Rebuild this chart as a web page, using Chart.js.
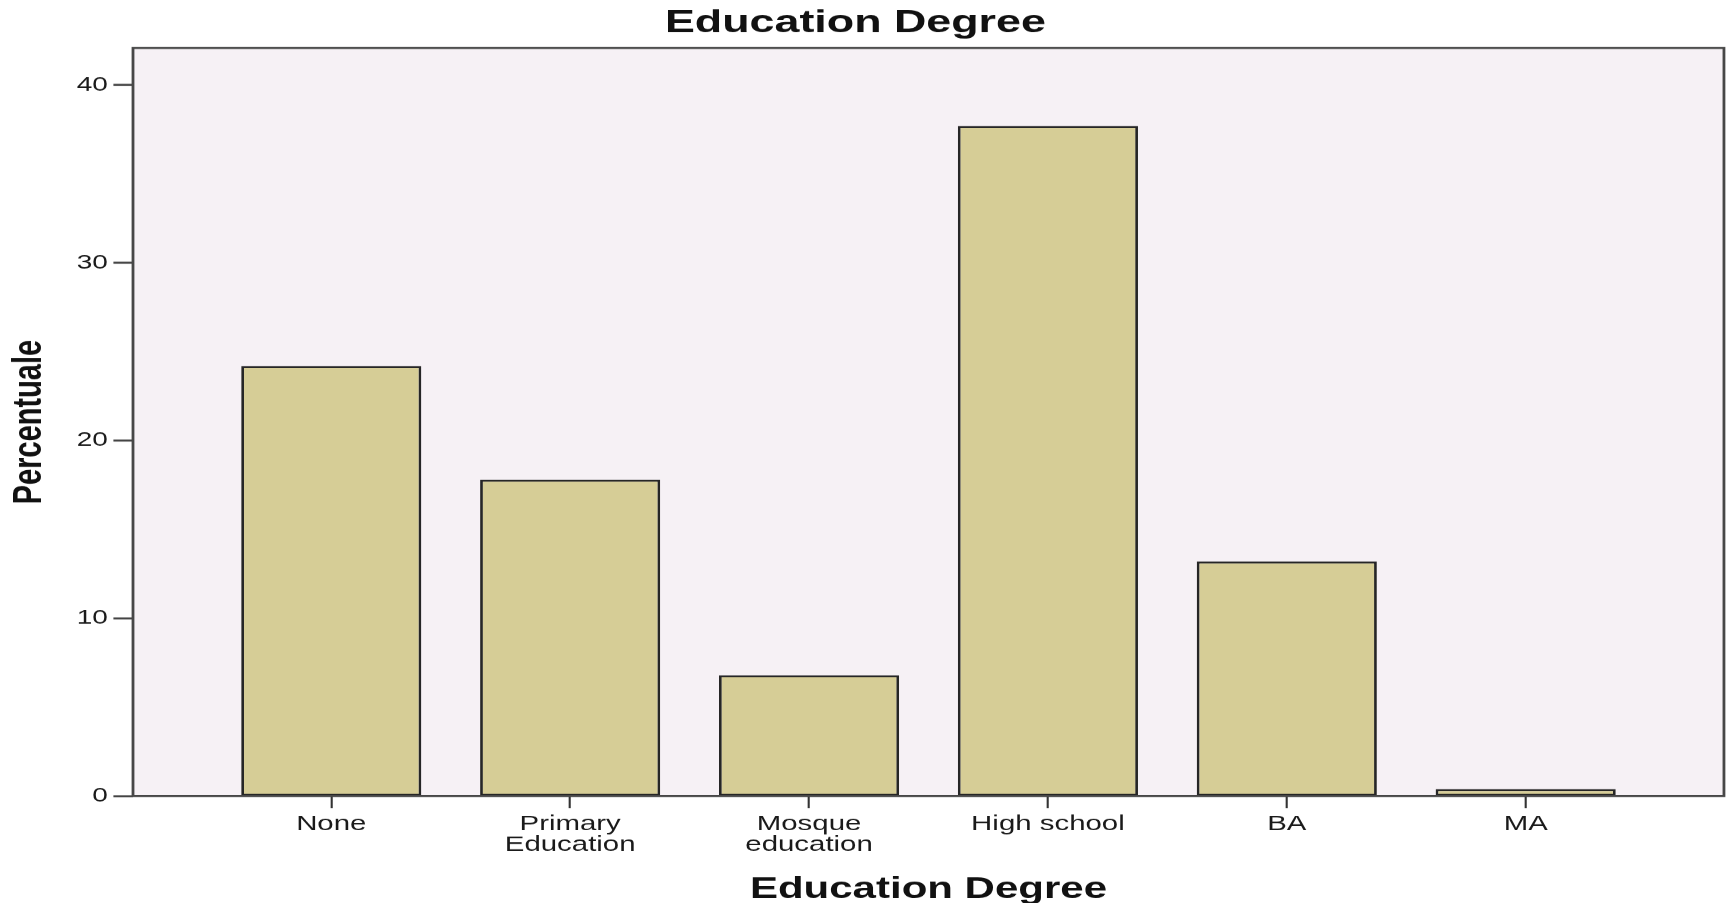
<!DOCTYPE html>
<html>
<head>
<meta charset="utf-8">
<script src="https://cdn.jsdelivr.net/npm/chart.js@4/dist/chart.umd.min.js"></script>
<style>
  html, body { margin: 0; padding: 0; background: #ffffff; overflow: hidden; }
  #wrap { width: 1240px; height: 903px; transform: scaleX(1.4); transform-origin: 0 0; }
</style>
</head>
<body>
<div id="wrap"><canvas id="c" width="1240" height="903"></canvas></div>
<script>
// ---- data ----
const categories = ['None', 'Primary\nEducation', 'Mosque\neducation', 'High school', 'BA', 'MA'];
const percentValues = [24.2, 17.8, 6.8, 37.7, 13.2, 0.4];
const yTickValues = [0, 10, 20, 30, 40];
const chartTitle = 'Education Degree';
const xAxisTitle = 'Education Degree';
const yAxisTitle = 'Percentuale';

const FONT = "'Liberation Sans', Arial, Helvetica, sans-serif";

const bgPlugin = {
  id: 'plotBg',
  beforeDraw(chart) {
    const { ctx, chartArea: a } = chart;
    ctx.save();
    ctx.fillStyle = '#f6f1f5';
    ctx.fillRect(a.left, a.top, a.right - a.left, a.bottom - a.top);
    ctx.restore();
  },
  afterDatasetsDraw(chart) {
    const { ctx, chartArea: a } = chart;
    ctx.save();
    ctx.strokeStyle = '#474747';
    ctx.lineWidth = 2;
    ctx.strokeRect(a.left, a.top, a.right - a.left, a.bottom - a.top);
    ctx.restore();
  },
  afterDraw(chart) {
    const { ctx } = chart;
    ctx.save();
    ctx.fillStyle = '#111';
    ctx.font = 'bold 32px ' + FONT;
    ctx.textAlign = 'center';
    ctx.textBaseline = 'middle';
    ctx.fillText(chartTitle, 611, 23);
    ctx.restore();
  }
};

new Chart(document.getElementById('c'), {
  type: 'bar',
  data: {
    datasets: [{
      data: percentValues.map((v, i) => ({ x: i, y: v })),
      backgroundColor: '#d6cd96',
      borderColor: '#262626',
      borderWidth: 2,
      borderSkipped: false,
      barPercentage: 0.754,
      categoryPercentage: 1.0
    }]
  },
  options: {
    responsive: false,
    animation: false,
    devicePixelRatio: 1.4,
    layout: { padding: { top: 48, right: 8.6, left: 0, bottom: 0 } },
    plugins: { legend: { display: false }, tooltip: { enabled: false }, title: { display: false } },
    scales: {
      x: {
        type: 'linear',
        offset: false,
        min: -0.83,
        max: 5.83,
        afterFit(scale) { scale.height = 107; },
        grid: { offset: false, drawOnChartArea: false, drawTicks: true, tickLength: 12, tickWidth: 1.5, tickColor: '#333' },
        border: { display: false },
        ticks: {
          stepSize: 1,
          includeBounds: false,
          autoSkip: false,
          maxRotation: 0,
          padding: 5.5,
          color: '#1a1a1a',
          font: { family: FONT, size: 21, lineHeight: 1.0 },
          callback: (v) => Number.isInteger(v) && categories[v] !== undefined ? categories[v].split('\n') : ''
        },
        title: {
          display: true,
          text: xAxisTitle,
          color: '#111',
          font: { family: FONT, size: 30, weight: 'bold', lineHeight: 0.88 },
          padding: { top: 0, bottom: 0 }
        }
      },
      y: {
        min: 0,
        max: 42.08,
        afterFit(scale) { scale.width = 95; },
        afterBuildTicks(scale) { scale.ticks = yTickValues.map(v => ({ value: v })); },
        grid: { drawOnChartArea: false, drawTicks: true, tickLength: 14, tickWidth: 2, tickColor: '#444' },
        border: { display: false },
        ticks: {
          padding: 4,
          color: '#1a1a1a',
          font: { family: FONT, size: 20 }
        },
        title: {
          display: true,
          text: yAxisTitle,
          color: '#111',
          font: { family: FONT, size: 29, weight: 'bold', lineHeight: 1.2 },
          padding: { top: 4, bottom: 0 }
        }
      }
    }
  },
  plugins: [bgPlugin]
});
</script>
</body>
</html>
